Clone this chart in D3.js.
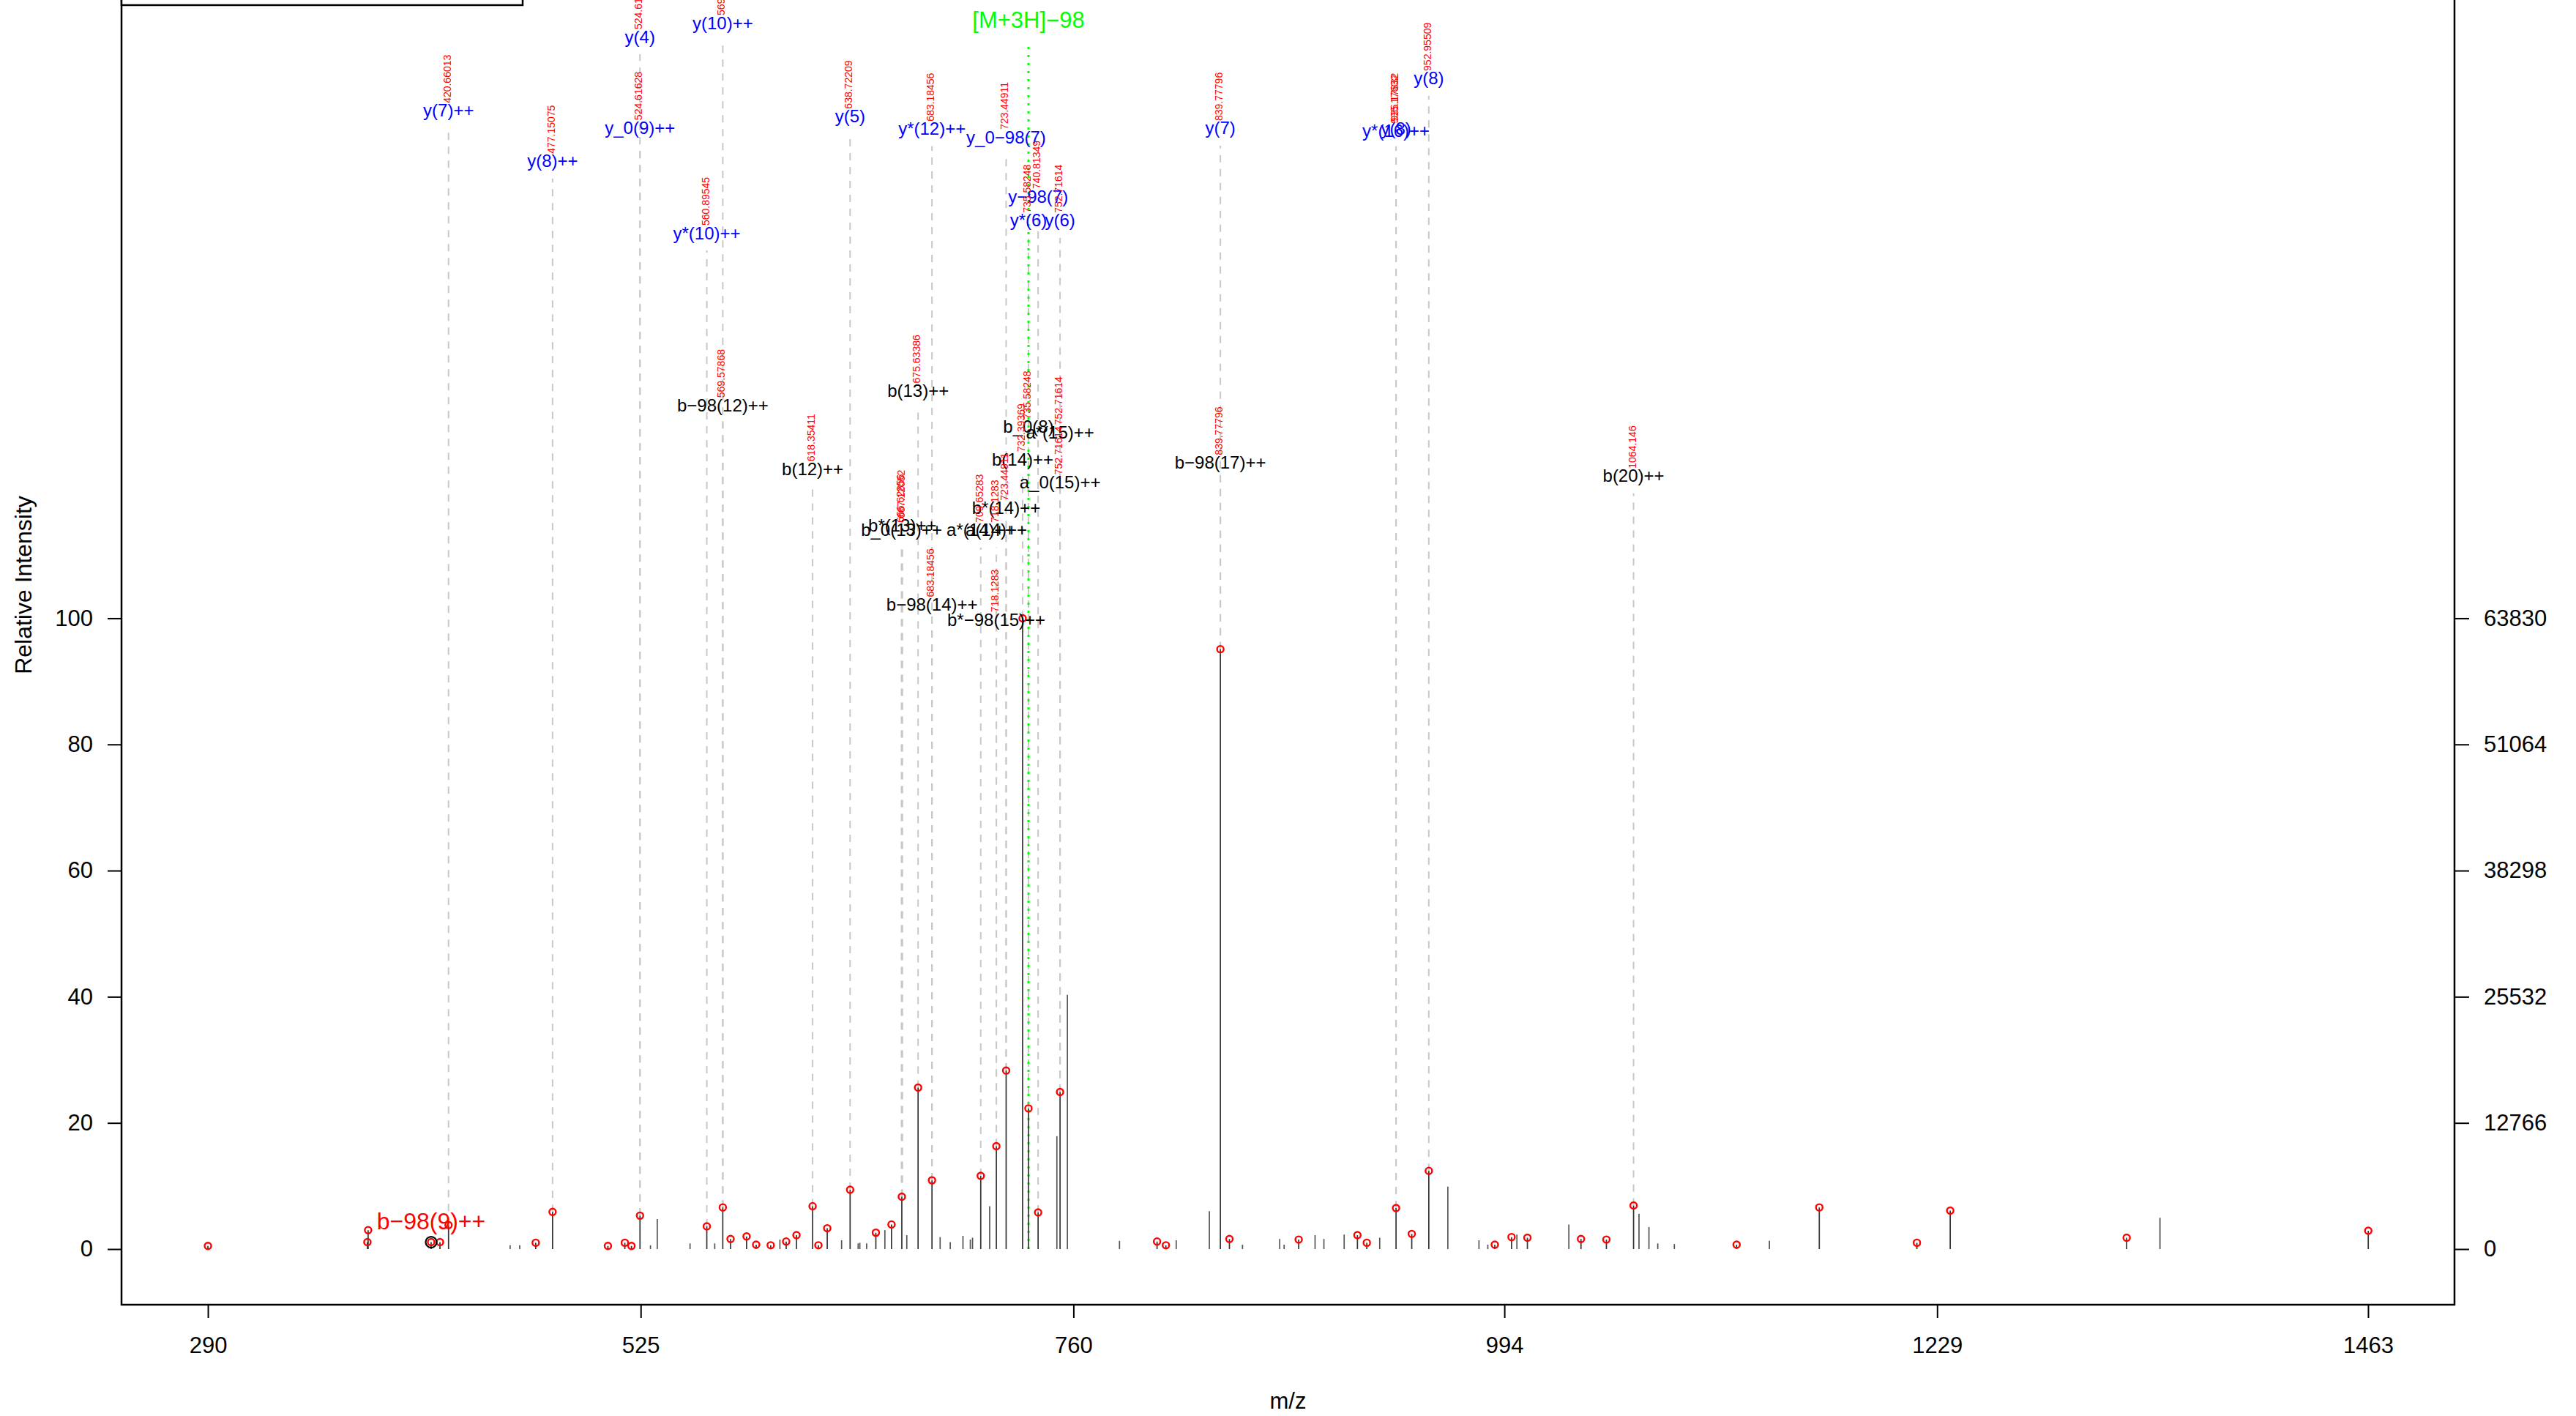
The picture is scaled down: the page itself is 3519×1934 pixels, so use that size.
<!DOCTYPE html>
<html><head><meta charset="utf-8">
<script src="https://cdn.jsdelivr.net/npm/d3@7"></script>
<style>html,body{margin:0;padding:0;background:#fff;overflow:hidden}</style>
</head><body>
<svg id="c" width="3519" height="1934"></svg>
<script>
// ---------- data ----------
const xTicks = [290, 525, 760, 994, 1229, 1463];
const yTicks = [0, 20, 40, 60, 80, 100];
const yTicksRight = ["0", "12766", "25532", "38298", "51064", "63830"];

// matched peaks (red circles): m/z and relative intensity (%)
const matchedMz = [290.0, 376.6, 377.0, 411.2, 416.0, 420.66, 468.0, 477.15, 507.2, 516.4, 520.0, 524.62,
  560.9, 569.58, 573.8, 582.5, 587.7, 595.6, 604.0, 609.6, 618.35, 621.5, 626.3, 638.72, 652.7, 661.2,
  666.8, 675.63, 683.18, 709.65, 718.13, 723.45, 732.39, 735.58, 740.81, 752.72, 805.4, 810.2, 839.78,
  844.7, 882.3, 914.2, 919.3, 935.17, 943.7, 952.96, 988.8, 997.9, 1006.5, 1035.6, 1049.4, 1064.15,
  1120.1, 1165.0, 1218.0, 1236.1, 1331.9, 1463.1];
const matchedInt = [0.5, 1.1, 3.0, 1.1, 1.1, 3.8, 1.0, 5.9, 0.5, 1.0, 0.5, 5.3,
  3.6, 6.6, 1.6, 2.0, 0.7, 0.6, 1.2, 2.2, 6.8, 0.6, 3.3, 9.4, 2.6, 3.9,
  8.3, 25.6, 10.9, 11.6, 16.3, 28.3, 100, 22.3, 5.8, 24.9, 1.2, 0.6, 95.1,
  1.6, 1.5, 2.2, 1.0, 6.5, 2.4, 12.4, 0.7, 1.9, 1.8, 1.6, 1.5, 6.9,
  0.7, 6.6, 1.0, 6.1, 1.8, 2.9];

// unmatched peaks
const otherMz = [454.1, 459.3, 530.3, 534.0, 551.8, 565.2, 600.6, 634.1, 643.1, 644.0, 647.7, 657.6,
  669.5, 687.6, 693.1, 700.0, 704.0, 705.2, 714.5, 751.0, 756.7, 785.0, 815.8, 833.8, 851.8, 872.0,
  874.4, 891.2, 896.0, 907.0, 926.3, 963.3, 980.2, 985.0, 1000.8, 1029.0, 1067.1, 1072.5, 1077.3,
  1086.3, 1137.9, 1350.0];
const otherInt = [0.6, 0.6, 0.6, 4.75, 0.9, 0.9, 1.5, 1.4, 0.9, 1.0, 0.9, 3.0,
  2.2, 1.9, 1.1, 2.1, 1.5, 1.8, 6.8, 17.9, 40.3, 1.3, 1.4, 6.0, 0.7, 1.6,
  0.7, 2.2, 1.6, 2.3, 1.8, 9.9, 1.4, 0.7, 2.3, 3.9, 5.6, 3.5, 0.9,
  0.8, 1.3, 4.95];

// fragment annotations: label, observed m/z text, label level (relative intensity units), ion family
const annLabel = ["y(7)++", "y(8)++", "y(4)", "y_0(9)++", "y(10)++", "y*(10)++", "y(5)", "y*(12)++",
  "y_0\u221298(7)", "y\u221298(7)", "y*(6)", "y(6)", "y(7)", "y*(16)++", "y(8)", "y(8)",
  "b\u221298(12)++", "b(12)++", "b(13)++", "b_0(8)", "a*(15)++", "b(14)++", "a_0(15)++", "b*(14)++",
  "b*(13)++", "b_0(13)++", "a*(14)++", "a(14)++", "b\u221298(14)++", "b*\u221298(15)++", "b\u221298(17)++", "b(20)++"];
const annMz = ["420.66013", "477.15075", "524.61628", "524.61628", "569.57868", "560.89545", "638.72209", "683.18456",
  "723.44911", "740.81349", "735.58248", "752.71614", "839.77796", "935.17632", "935.17832", "952.95509",
  "569.57868", "618.35411", "675.63386", "735.58248", "752.71614", "732.39369", "752.71614", "723.44911",
  "667.12052", "666.62856", "709.65283", "718.1283", "683.18456", "718.1283", "839.77796", "1064.146"];
const annLevel = [180.5, 172.5, 192.2, 177.8, 194.4, 161.1, 179.6, 177.6,
  176.3, 166.9, 163.1, 163.1, 177.7, 177.3, 177.6, 185.6,
  133.8, 123.7, 136.1, 130.4, 129.5, 125.2, 121.6, 117.5,
  114.7, 114.0, 114.0, 114.0, 102.2, 99.8, 124.7, 122.6];
const annFamily = ["y","y","y","y","y","y","y","y","y","y","y","y","y","y","y","y",
  "b","b","b","b","b","b","b","b","b","b","b","b","b","b","b","b"];

// precursor marker
const precursorLabel = "[M+3H]\u221298";
const precursorMz = 735.58;
const precursorLevel = 194.8;

// highlighted fragment
const focusLabel = "b\u221298(9)++";
const focusMz = 411.2;
const focusLevel = 4.4;

// ---------- drawing ----------
const FONT = "'Liberation Sans', Arial, Helvetica, sans-serif";
const svg = d3.select("#c");
const box = {left: 166, right: 3353, top: -186, bottom: 1782};
const xPad = 0.04 * (xTicks[xTicks.length - 1] - xTicks[0]);
const x = d3.scaleLinear().domain([xTicks[0] - xPad, xTicks[xTicks.length - 1] + xPad]).range([box.left, box.right]);
const y = d3.scaleLinear().domain([-8.82, 219.6]).range([box.bottom, box.top]);

svg.append("rect").attr("width", 3519).attr("height", 1934).attr("fill", "#fff");

const allPeaks = matchedMz.map((m, i) => ({mz: m, v: matchedInt[i], hit: true}))
  .concat(otherMz.map((m, i) => ({mz: m, v: otherInt[i], hit: false})));
function peakAt(m) {
  let best = allPeaks[0];
  for (const p of allPeaks) if (Math.abs(p.mz - m) < Math.abs(best.mz - m)) best = p;
  return best;
}
const ann = annLabel.map((l, i) => ({label: l, mzText: annMz[i], mz: +annMz[i], level: annLevel[i], fam: annFamily[i]}));

// dashed connectors
svg.append("g").selectAll("line").data(ann).join("line")
  .attr("x1", d => x(d.mz)).attr("x2", d => x(d.mz))
  .attr("y1", d => y(peakAt(d.mz).v)).attr("y2", d => y(d.level) + 24)
  .attr("stroke", "#c8c8c8").attr("stroke-width", 2).attr("stroke-dasharray", "10,9");

// precursor dotted line
svg.append("line")
  .attr("x1", x(precursorMz)).attr("x2", x(precursorMz))
  .attr("y1", y(0)).attr("y2", y(precursorLevel) + 36)
  .attr("stroke", "#00ff00").attr("stroke-width", 3).attr("stroke-dasharray", "3,8");

// stems
svg.append("g").selectAll("line").data(allPeaks).join("line")
  .attr("x1", d => x(d.mz)).attr("x2", d => x(d.mz))
  .attr("y1", y(0)).attr("y2", d => y(d.v))
  .attr("stroke", d => d.hit ? "#333" : "#555").attr("stroke-width", 1.7);

// matched circles
svg.append("g").selectAll("circle").data(allPeaks.filter(d => d.hit)).join("circle")
  .attr("cx", d => x(d.mz)).attr("cy", d => y(d.v)).attr("r", 4.5)
  .attr("fill", "none").attr("stroke", "#ff0000").attr("stroke-width", 2.4);

// focus circle + label
svg.append("circle").attr("cx", x(focusMz)).attr("cy", y(peakAt(focusMz).v)).attr("r", 7.5)
  .attr("fill", "none").attr("stroke", "#000").attr("stroke-width", 2.2);
svg.append("text").attr("x", x(focusMz)).attr("y", y(focusLevel))
  .attr("text-anchor", "middle").attr("dominant-baseline", "central")
  .attr("font-family", FONT).attr("font-size", 32).attr("fill", "#ff0000").text(focusLabel);

// annotation labels
svg.append("g").selectAll("text").data(ann).join("text")
  .attr("x", d => x(d.mz)).attr("y", d => y(d.level))
  .attr("text-anchor", "middle").attr("dominant-baseline", "central")
  .attr("font-family", FONT).attr("font-size", 24)
  .attr("fill", d => d.fam === "y" ? "#0000ff" : "#000").text(d => d.label);

// rotated m/z texts
svg.append("g").selectAll("text").data(ann).join("text")
  .attr("transform", d => `translate(${x(d.mz) - 2},${y(d.level) - 10}) rotate(-90)`)
  .attr("text-anchor", "start").attr("dominant-baseline", "central")
  .attr("font-family", FONT).attr("font-size", 14).attr("fill", "#ff0000").text(d => d.mzText);

// precursor label
svg.append("text").attr("x", x(precursorMz)).attr("y", y(precursorLevel))
  .attr("text-anchor", "middle").attr("dominant-baseline", "central")
  .attr("font-family", FONT).attr("font-size", 31).attr("fill", "#00ff00").text(precursorLabel);

// plot box
svg.append("rect").attr("x", box.left).attr("y", box.top)
  .attr("width", box.right - box.left).attr("height", box.bottom - box.top)
  .attr("fill", "none").attr("stroke", "#000").attr("stroke-width", 2.5);

// legend box (top-left, mostly outside view)
svg.append("rect").attr("x", box.left).attr("y", -300).attr("width", 548).attr("height", 307)
  .attr("fill", "#fff").attr("stroke", "#000").attr("stroke-width", 2.5);

// axes
function styleAxis(g) {
  g.select(".domain").remove();
  g.selectAll(".tick line").attr("stroke", "#000").attr("stroke-width", 2);
  g.selectAll(".tick text").attr("font-family", FONT).attr("font-size", 31).attr("fill", "#000");
}
svg.append("g").attr("transform", `translate(${box.left},0)`)
  .call(d3.axisLeft(y).tickValues(yTicks).tickSize(19).tickPadding(20).tickFormat(d3.format("d")))
  .call(styleAxis);
svg.append("g").attr("transform", `translate(${box.right},0)`)
  .call(d3.axisRight(y).tickValues(yTicks).tickSize(20).tickPadding(20)
    .tickFormat((d, i) => yTicksRight[i]))
  .call(styleAxis);
svg.append("g").attr("transform", `translate(0,${box.bottom})`)
  .call(d3.axisBottom(x).tickValues(xTicks).tickSize(18).tickPadding(26).tickFormat(d3.format("d")))
  .call(styleAxis);

// axis titles
svg.append("text").attr("x", (box.left + box.right) / 2).attr("y", 1913)
  .attr("text-anchor", "middle").attr("dominant-baseline", "central")
  .attr("font-family", FONT).attr("font-size", 31).text("m/z");
svg.append("text").attr("transform", "translate(32,799) rotate(-90)")
  .attr("text-anchor", "middle").attr("dominant-baseline", "central")
  .attr("font-family", FONT).attr("font-size", 32).text("Relative Intensity");
</script>
</body></html>
